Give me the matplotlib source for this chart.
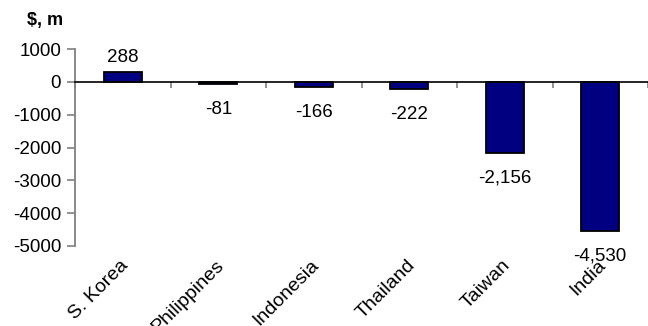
import matplotlib
matplotlib.use("Agg")
import matplotlib.pyplot as plt
import matplotlib.transforms as mtransforms
import numpy as np

categories = ["S. Korea", "Philippines", "Indonesia", "Thailand", "Taiwan", "India"]
values = [288, -81, -166, -222, -2156, -4530]
value_labels = ["288", "-81", "-166", "-222", "-2,156", "-4,530"]
yticks = [1000, 0, -1000, -2000, -3000, -4000, -5000]

plt.rcParams['font.family'] = ['Liberation Sans', 'DejaVu Sans']
FS = 13.5
FSX = 14

fig = plt.figure(figsize=(6.48, 3.26), dpi=100)
ax = fig.add_axes([75/648, 80/326, 1 - 75/648, (246-49)/326])

x = np.arange(len(categories))
ax.bar(x, values, width=0.4, color="#000080", edgecolor="black", linewidth=1.3, zorder=3)

ax.set_xlim(-0.5, len(categories) - 0.5)
ax.set_ylim(-5000, 1000)
ax.set_yticks(yticks)
ax.set_yticklabels([str(t) for t in yticks], fontsize=FS)
ax.tick_params(axis='y', direction='out', length=6, width=1.2, color='#808080', pad=4)

for s in ['top', 'right']:
    ax.spines[s].set_visible(False)
ax.spines['left'].set_color('#808080')
ax.spines['left'].set_linewidth(1.3)
ax.spines['bottom'].set_position(('data', 0))
ax.spines['bottom'].set_color('black')
ax.spines['bottom'].set_linewidth(1.2)
ax.spines['bottom'].set_zorder(4)

# category boundary ticks on zero line
ax.set_xticks(np.arange(len(categories) + 1) - 0.5)
ax.set_xticklabels([])
ax.tick_params(axis='x', direction='out', length=4, width=1.2, color='#808080')

# category labels below the plot
trans = ax.get_xaxis_transform()
for i, c in enumerate(categories):
    off = mtransforms.offset_copy(trans, fig=fig, x=3, y=-17, units='dots')
    ax.text(i, 0, c, transform=off, rotation=45, rotation_mode='anchor',
            ha='right', va='center', fontsize=FSX)

# value labels
for i, (v, lab) in enumerate(zip(values, value_labels)):
    if v >= 0:
        ax.annotate(lab, (i, v), xytext=(0, 15), textcoords='offset pixels',
                    ha='center', va='center', fontsize=FS)
    else:
        ax.annotate(lab, (i, v), xytext=(0, -25), textcoords='offset pixels',
                    ha='center', va='center', fontsize=FS)

fig.text(27/648, 1 - 21/326, "$, m", fontsize=13, fontweight='bold', va='center', ha='left')

fig.savefig("out.png", dpi=100)
